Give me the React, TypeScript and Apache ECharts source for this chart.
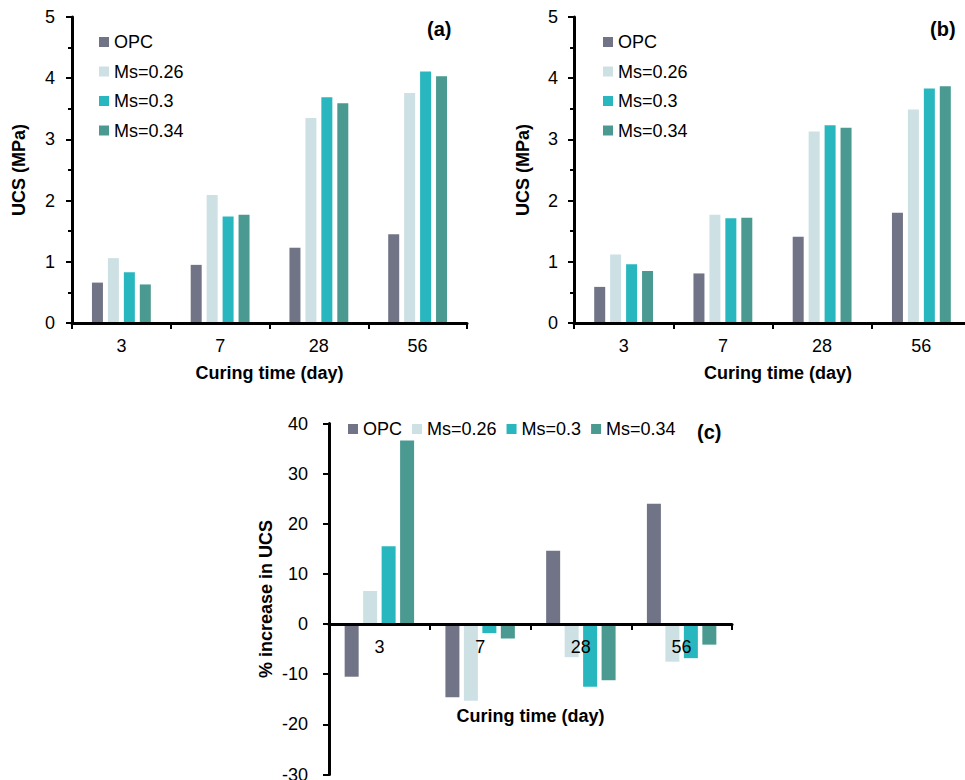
import React, { useEffect, useRef } from "react";
import * as echarts from "echarts";

const categories = ["3", "7", "28", "56"];
const seriesNames = ["OPC", "Ms=0.26", "Ms=0.3", "Ms=0.34"];
const colors = ["#717486", "#CDE1E4", "#28B7BE", "#4A9A92"];

// Panel (a) UCS (MPa)
const a_OPC = [0.66, 0.95, 1.23, 1.45];
const a_Ms026 = [1.06, 2.09, 3.35, 3.76];
const a_Ms030 = [0.83, 1.74, 3.69, 4.11];
const a_Ms034 = [0.63, 1.77, 3.59, 4.03];

// Panel (b) UCS (MPa)
const b_OPC = [0.59, 0.81, 1.41, 1.8];
const b_Ms026 = [1.12, 1.77, 3.13, 3.49];
const b_Ms030 = [0.96, 1.71, 3.23, 3.83];
const b_Ms034 = [0.85, 1.72, 3.19, 3.87];

// Panel (c) % increase in UCS
const c_OPC = [-10.5, -14.6, 14.6, 24.0];
const c_Ms026 = [6.6, -15.3, -6.6, -7.5];
const c_Ms030 = [15.5, -1.8, -12.5, -6.8];
const c_Ms034 = [36.6, -2.9, -11.2, -4.1];

const ucsTicks = [0, 1, 2, 3, 4, 5];
const pctTicks = [-30, -20, -10, 0, 10, 20, 30, 40];

const FONT = "'Liberation Sans', Arial, Helvetica, sans-serif";

export default function App() {
  const ref = useRef<HTMLDivElement>(null);

  useEffect(() => {
    if (!ref.current) return;
    const chart = echarts.init(ref.current, undefined, { renderer: "svg" });

    const axisLine = () => ({ show: true, onZero: false, lineStyle: { color: "#000", width: 3 } });
    const axisTick = () => ({ show: true, length: 6, lineStyle: { color: "#000", width: 2 } });
    const labelStyle = () => ({ color: "#000", fontSize: 18, fontFamily: FONT });
    const nameStyle = () => ({ color: "#000", fontSize: 18, fontWeight: "bold" as const, fontFamily: FONT });

    const gridC = { left: 329, top: 423.5, width: 403, height: 351 };
    const pctMin = pctTicks[0];
    const pctMax = pctTicks[pctTicks.length - 1];
    // shift panel (c)'s category axis up to the value-axis zero line
    const zeroOffset = -((0 - pctMin) / (pctMax - pctMin)) * gridC.height;

    const xAxisBase = (gridIndex: number, nameGap: number, extra: any = {}) => ({
      type: "category",
      gridIndex,
      data: categories,
      boundaryGap: true,
      z: 10,
      axisLine: axisLine(),
      axisTick: { ...axisTick(), alignWithLabel: false },
      axisLabel: { ...labelStyle(), margin: 14 },
      splitLine: { show: false },
      name: "Curing time (day)",
      nameLocation: "middle",
      nameGap,
      nameTextStyle: nameStyle(),
      ...extra,
    });

    const ucsY = (gridIndex: number, nameGap: number, labelMargin: number) => ({
      type: "value",
      gridIndex,
      min: ucsTicks[0],
      max: ucsTicks[ucsTicks.length - 1],
      interval: 1,
      z: 10,
      axisLine: axisLine(),
      axisTick: axisTick(),
      minorTick: { show: true, splitNumber: 2, length: 4, lineStyle: { color: "#000", width: 2 } },
      minorSplitLine: { show: false },
      splitLine: { show: false },
      axisLabel: { ...labelStyle(), margin: labelMargin },
      name: "UCS (MPa)",
      nameLocation: "middle",
      nameGap,
      nameTextStyle: nameStyle(),
    });

    const makeSeries = (data: number[][], xi: number, barWidth: number, barGap: string) =>
      data.map((d, i) => ({
        type: "bar",
        name: seriesNames[i],
        xAxisIndex: xi,
        yAxisIndex: xi,
        data: d,
        barWidth,
        barGap,
        itemStyle: { color: colors[i] },
        emphasis: { disabled: true },
      }));

    const legendBase = () => ({
      itemWidth: 10,
      itemHeight: 10,
      icon: "rect",
      padding: 0,
      textStyle: { color: "#000", fontSize: 18, fontFamily: FONT },
      selectedMode: false,
      data: seriesNames,
    });

    const panelLabel = (text: string, left: number, top: number) => ({
      type: "text",
      left,
      top,
      style: { text, fill: "#000", fontSize: 20, fontWeight: "bold", fontFamily: FONT },
    });

    chart.setOption({
      animation: false,
      textStyle: { fontFamily: FONT },
      grid: [
        { left: 72, top: 17, width: 395, height: 306, outerBoundsMode: "none", containLabel: false },
        { left: 574, top: 17, width: 397, height: 306, outerBoundsMode: "none", containLabel: false },
        { ...gridC, outerBoundsMode: "none", containLabel: false },
      ],
      xAxis: [
        xAxisBase(0, 41),
        xAxisBase(1, 41, { nameTextStyle: { ...nameStyle(), padding: [0, 0, 0, 11] } }),
        xAxisBase(2, 83, { position: "bottom", offset: zeroOffset }),
      ],
      yAxis: [
        ucsY(0, 44, 17),
        ucsY(1, 42, 16),
        {
          type: "value",
          gridIndex: 2,
          min: pctMin,
          max: pctMax,
          interval: 10,
          z: 10,
          axisLine: axisLine(),
          axisTick: axisTick(),
          splitLine: { show: false },
          axisLabel: { ...labelStyle(), margin: 21 },
          name: "% increase in UCS",
          nameLocation: "middle",
          nameGap: 54,
          nameTextStyle: nameStyle(),
        },
      ],
      legend: [
        { ...legendBase(), orient: "vertical", left: 99, top: 33, itemGap: 11.5 },
        { ...legendBase(), orient: "vertical", left: 603, top: 33, itemGap: 11.5 },
        { ...legendBase(), orient: "horizontal", left: 348, top: 420, itemGap: 10 },
      ],
      graphic: [
        panelLabel("(a)", 427, 19),
        panelLabel("(b)", 930, 19),
        panelLabel("(c)", 697, 422),
      ],
      series: [
        ...makeSeries([a_OPC, a_Ms026, a_Ms030, a_Ms034], 0, 11, "45%"),
        ...makeSeries([b_OPC, b_Ms026, b_Ms030, b_Ms034], 1, 11, "45%"),
        ...makeSeries([c_OPC, c_Ms026, c_Ms030, c_Ms034], 2, 14, "32%"),
      ],
    });

    return () => chart.dispose();
  }, []);

  return (
    <div
      ref={ref}
      style={{ position: "fixed", left: 0, top: 0, width: 965, height: 780, background: "#fff" }}
    />
  );
}
